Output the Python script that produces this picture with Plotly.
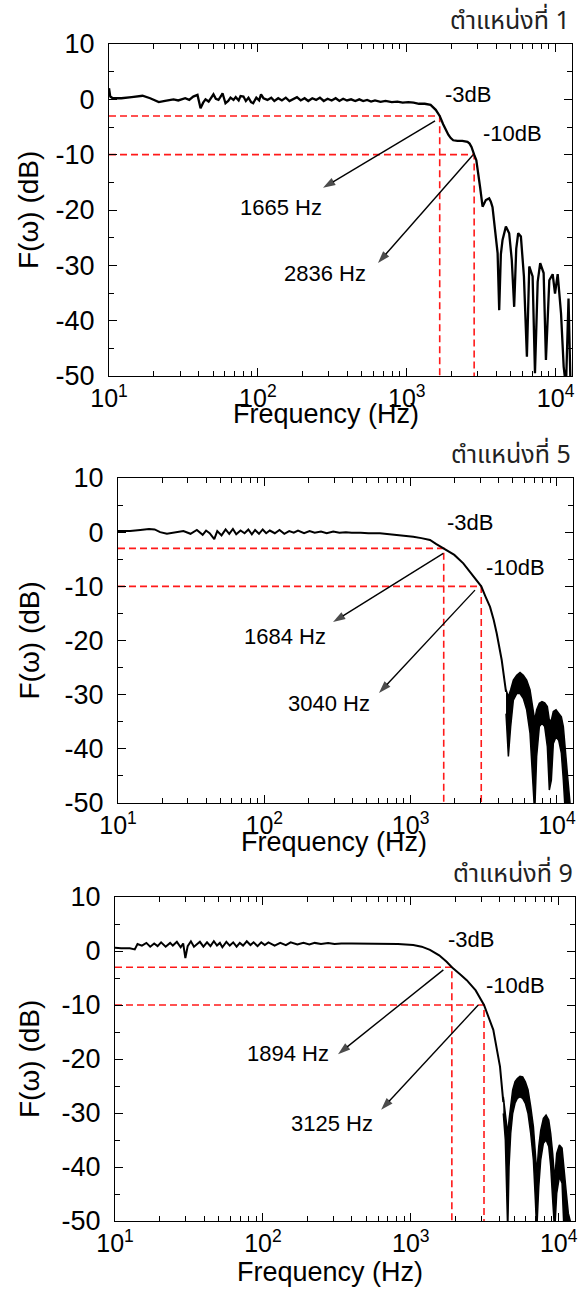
import math
import plotly.graph_objects as go

# ---- data (frequency in Hz, response in dB) ----
PANEL_TITLES = ["ตำแหน่งที่ 1", "ตำแหน่งที่ 5", "ตำแหน่งที่ 9"]
CUT_3DB = [1665, 1684, 1894]
CUT_10DB = [2836, 3040, 3125]

P1_FREQ = [10.0, 10.2, 10.6, 12.1, 14.2, 16.8, 18.9, 21.6, 23.8, 27.1,
           29.2, 32.5, 34.6, 36.8, 39.3, 41.2, 42.9, 44.5, 46.7, 50.3,
           52.2, 54.4, 56.6, 57.9, 60.6, 63.2, 65.5, 68.6, 71.0, 74.3,
           76.5, 80.0, 83.0, 86.5, 90.0, 93.0, 97.6, 102, 105, 109,
           116, 123, 129, 137, 145, 154, 163, 173, 183, 194,
           206, 218, 232, 246, 261, 277, 294, 313, 333, 353,
           374, 397, 423, 451, 480, 510, 542, 576, 612, 667,
           720, 793, 866, 939, 1025, 1113, 1208, 1321, 1446, 1566,
           1665, 1756, 1827, 1902, 1975, 2052, 2191, 2363, 2559, 2643,
           2722, 2806, 2836, 2933, 2988, 3114, 3231, 3316, 3399, 3577,
           3671, 3768, 3927, 4077, 4178, 4287, 4400, 4633, 4875, 5075,
           5267, 5438, 5605, 5845, 6124, 6413, 6651, 7005, 7265, 7577,
           7878, 8308, 8608, 9071, 9555, 9907, 10325, 10872, 11325, 11736,
           12208, 12600]
P1_DB = [2.0, 0.5, 0.2, 0.2, 0.4, 0.65, 0.2, -0.5, -0.3, 0.0,
         -0.2, 0.2, -0.1, 0.5, 0.8, -1.6, -0.6, 0.0, -0.4, 0.9,
         0.1, -0.1, 0.6, 1.1, -0.7, -0.3, 0.3, -0.1, 0.4, -0.2,
         0.6, 0.5, -0.3, 0.3, -0.5, -0.7, 0.3, -0.2, 0.9, 0.2,
         -0.1, 0.3, -0.3, 0.2, -0.2, 0.3, -0.3, 0.1, 0.4, -0.2,
         0.2, -0.3, 0.2, -0.1, 0.3, -0.3, 0.1, -0.2, 0.2, -0.3,
         0.1, -0.2, 0.0, -0.3, 0.0, -0.3, -0.1, -0.4, -0.2, -0.45,
         -0.3, -0.5, -0.4, -0.6, -0.5, -0.6, -0.8, -0.8, -1.0, -1.9,
         -3.0, -4.5, -5.5, -6.4, -7.0, -7.4, -7.5, -7.5, -7.7, -8.0,
         -8.6, -9.4, -10.0, -11.0, -12.3, -16.0, -19.4, -18.6, -18.2, -17.9,
         -18.5, -19.5, -23.5, -27.8, -38.1, -28.0, -25.4, -23.0, -24.2, -29.0,
         -37.5, -27.0, -24.2, -24.8, -32.0, -46.5, -30.2, -32.0, -49.5, -33.0,
         -29.6, -31.4, -47.1, -32.7, -31.6, -35.1, -31.6, -38.7, -48.3, -52.0,
         -36.0, -52.0]

P2_FREQ = [10, 12.1, 14.2, 16.3, 17.8, 19.4, 21.6, 24.8, 28.0, 31.3,
           34.6, 37.9, 40.0, 42.3, 45.5, 47.7, 51.0, 54.4, 57.6, 61.0,
           64.3, 68.8, 73.3, 77.8, 82.2, 86.5, 92.0, 97.5, 103, 109,
           118, 127, 137, 148, 159, 170, 187, 204, 221, 244,
           267, 296, 326, 361, 396, 456, 515, 617, 757, 878,
           1043, 1184, 1357, 1500, 1684, 1990, 2292, 2619, 3040, 3239,
           3491, 3699, 3879, 4194, 4418, 4489]
P2_DB = [0.2, 0.2, 0.4, 0.6, 0.5, 0.0, -0.3, -0.1, 0.2, -0.3,
         0.4, -0.5, 0.3, -0.2, -1.3, 0.2, -0.6, 0.5, -0.3, 0.6,
         -0.4, 0.3, -0.2, 0.5, -0.4, 0.4, -0.3, 0.5, -0.2, 0.3,
         -0.2, 0.4, -0.3, 0.2, -0.1, 0.3, -0.2, 0.2, -0.1, 0.1,
         -0.2, 0.1, -0.1, 0.0, -0.1, -0.1, -0.2, -0.2, -0.4, -0.6,
         -0.83, -1.1, -1.45, -2.2, -3.0, -4.2, -5.75, -7.8, -10.0, -11.8,
         -13.8, -16.2, -18.7, -23.6, -28.5, -29.5]
# high-frequency part drawn as a dense band (upper / lower envelope)
P2_BAND_FREQ = [4489, 4659, 4829, 5038, 5312, 5597, 5895, 6212, 6549, 6832,
                7048, 7270, 7583, 7907, 8251, 8602, 8874, 9163, 9453, 9860,
                10280, 10724, 11065, 11421, 11786, 12290]
P2_BAND_HI = [-29.1, -30.4, -29.1, -27.3, -26.4, -25.9, -26.4, -27.3, -29.1, -32.2,
              -34.7, -32.8, -31.6, -31.3, -31.5, -32.2, -34.7, -34.7, -33.1, -32.8,
              -33.5, -34.1, -35.9, -39.6, -44.5, -50.0]
P2_BAND_LO = [-33.5, -41.4, -35.9, -31.0, -29.8, -29.8, -30.7, -32.8, -37.1, -44.5,
              -52.0, -41.4, -35.9, -35.3, -35.9, -39.6, -47.6, -45.8, -39.0, -37.8,
              -38.4, -40.8, -45.8, -52.0, -52.0, -52.0]

P3_FREQ = [10, 11, 12.6, 13.6, 14.2, 15.2, 16.3, 17.3, 18.4, 19.4,
           20.5, 22.0, 23.6, 24.6, 26.2, 27.8, 28.9, 29.9, 31.0, 32.6,
           34.2, 35.9, 37.5, 39.6, 41.9, 44.2, 46.6, 48.9, 51.2, 53.2,
           56.6, 59.7, 63.0, 66.4, 69.8, 73.4, 77.8, 82.4, 86.5, 92.0,
           97.5, 103, 109, 120, 131, 143, 154, 171, 188, 206,
           224, 247, 276, 305, 339, 397, 455, 513, 619, 818,
           1038, 1184, 1347, 1555, 1746, 1894, 2152, 2388, 2745, 3125,
           3611, 4008, 4220]
P3_DB = [0.6, 0.5, 0.5, 0.3, 1.3, 1.0, 1.5, 0.8, 1.4, 0.9,
         1.6, 0.8, 1.5, 1.0, 1.7, 0.7, 1.4, -1.3, 0.9, 1.8,
         0.8, 1.2, 1.7, 0.8, 1.6, 0.9, 1.8, 1.0, 1.5, 0.7,
         1.7, 1.0, 1.6, 0.8, 1.5, 1.0, 1.8, 1.1, 1.6, 0.9,
         1.6, 1.1, 1.6, 1.0, 1.5, 1.1, 1.6, 1.2, 1.5, 1.2,
         1.5, 1.3, 1.5, 1.3, 1.4, 1.4, 1.4, 1.4, 1.4, 1.3,
         1.1, 0.8, 0.2, -0.8, -2.0, -3.0, -4.3, -5.4, -7.3, -10.0,
         -14.6, -21.4, -28.0]
P3_BAND_FREQ = [4220, 4355, 4448, 4520, 4614, 4735, 4883, 5065, 5249, 5473,
                5705, 5948, 6201, 6465, 6740, 6951, 7098, 7326, 7555, 7876,
                8210, 8560, 8826, 9103, 9388, 9690, 10102, 10532, 10862, 11208,
                11616, 12050]
P3_BAND_HI = [-27.0, -30.1, -32.5, -33.8, -31.3, -28.2, -25.7, -24.2, -23.6, -23.2,
              -23.3, -24.2, -25.7, -28.8, -32.5, -37.5, -41.2, -36.2, -33.2, -31.0,
              -30.4, -31.3, -33.8, -37.5, -42.4, -37.5, -35.9, -36.5, -39.9, -44.3,
              -48.6, -50.3]
P3_BAND_LO = [-30.1, -35.0, -41.8, -52.0, -39.9, -33.8, -30.1, -28.2, -27.3, -27.0,
              -27.3, -28.2, -30.1, -33.8, -38.7, -46.1, -52.0, -43.7, -38.7, -35.6,
              -35.0, -36.2, -39.9, -46.1, -52.0, -44.9, -41.8, -43.0, -52.0, -52.0,
              -52.0, -52.0]

# annotation anchor points (frequency, dB)
ARROW_3DB = [((1549, -3.9), (274, -16.0)), ((1673, -3.9), (295, -16.6)), ((1660, -3.5), (322, -19.1))]
ARROW_10DB = [((2773, -10.1), (641, -29.6)), ((2754, -10.7), (608, -29.7)), ((2858, -10.0), (630, -29.4))]
LABEL_3DB_POS = [(143, -19.5), (138, -19.2), (148, -18.9)]
LABEL_10DB_POS = [(282, -31.4), (277, -31.7), (293, -31.9)]
TAG_3DB_POS = [(2576, 0.8), (2547, 1.7), (2553, 2.2)]
TAG_10DB_POS = [(5093, -6.1), (5248, -6.6), (5140, -6.3)]

X_MAJOR = [10, 100, 1000, 10000]
X_MAJOR_TEXT = ["10<sup>1</sup>", "10<sup>2</sup>", "10<sup>3</sup>", "10<sup>4</sup>"]
X_MINOR = [20, 30, 40, 50, 60, 70, 80, 90,
           200, 300, 400, 500, 600, 700, 800, 900,
           2000, 3000, 4000, 5000, 6000, 7000, 8000, 9000]
Y_MAJOR = [-50, -40, -30, -20, -10, 0, 10]

# ---- page geometry (pixels) ----
W, H = 584, 1293
BOXES = [(109, 572, 44, 376), (118, 573, 478, 803), (115, 575, 897, 1221)]  # left, right, top, bottom
XTITLE_POS = [(326, 414), (334, 842), (330, 1272)]
YTITLE_X = 29

FONT = "Liberation Sans, Arial, sans-serif"
THAI_FONT = "Noto Sans Thai, Loma, Tahoma, Noto Sans, sans-serif"

curves = [(P1_FREQ, P1_DB, None),
          (P2_FREQ, P2_DB, (P2_BAND_FREQ, P2_BAND_HI, P2_BAND_LO)),
          (P3_FREQ, P3_DB, (P3_BAND_FREQ, P3_BAND_HI, P3_BAND_LO))]

fig = go.Figure()
annotations = []
lg = math.log10

for i, (freq, db, band) in enumerate(curves):
    n = "" if i == 0 else str(i + 1)
    xa, ya = "x" + n, "y" + n
    left, right, top, bottom = BOXES[i]

    # red dashed guide lines for the -3 dB and -10 dB points
    for fc, lvl in ((CUT_3DB[i], -3), (CUT_10DB[i], -10)):
        fig.add_trace(go.Scatter(x=[10, fc, fc], y=[lvl, lvl, -50], mode="lines",
                                 line=dict(color="#ff1a1a", width=1.6, dash="7px,4px"),
                                 xaxis=xa, yaxis=ya, showlegend=False, hoverinfo="skip"))

    fig.add_trace(go.Scatter(x=freq, y=db, mode="lines",
                             line=dict(color="black", width=2 if i else 2.3),
                             xaxis=xa, yaxis=ya, showlegend=False))
    if band:
        bf, bh, bl = band
        fig.add_trace(go.Scatter(x=bf + bf[::-1], y=bh + bl[::-1], mode="lines",
                                 fill="toself", fillcolor="black",
                                 line=dict(color="black", width=1.5),
                                 xaxis=xa, yaxis=ya, showlegend=False))

    # arrows: tail at the cut-off point, head next to the frequency label
    for (tail, head) in (ARROW_3DB[i], ARROW_10DB[i]):
        fig.add_trace(go.Scatter(x=[tail[0], head[0]], y=[tail[1], head[1]], mode="lines+markers",
                                 line=dict(color="black", width=1.4),
                                 marker=dict(symbol="arrow", angleref="previous", size=[0, 13],
                                             color="black", line=dict(width=0)),
                                 xaxis=xa, yaxis=ya, showlegend=False, hoverinfo="skip"))

    axis_common = dict(showline=True, linecolor="black", linewidth=1.3, mirror="allticks",
                       ticks="inside", tickwidth=1.2, tickcolor="black", showgrid=False,
                       zeroline=False, automargin=False)
    fig.layout["xaxis" + n] = dict(
        type="log", range=[1, 4.11], domain=[left / W, right / W], anchor=ya,
        tickmode="array", tickvals=X_MAJOR, ticktext=X_MAJOR_TEXT, ticklen=8,
        ticklabelstandoff=0, tickfont=dict(family=FONT, size=25, color="black"),
        minor=dict(tickvals=X_MINOR, ticks="inside", ticklen=5, tickwidth=1, tickcolor="black"),
        **axis_common)
    fig.layout["yaxis" + n] = dict(
        range=[-50, 10], domain=[1 - bottom / H, 1 - top / H], anchor=xa,
        tickmode="array", tickvals=Y_MAJOR, ticktext=[str(v) for v in Y_MAJOR],
        ticklen=8, ticklabelstandoff=8, tickfont=dict(family=FONT, size=27, color="black"),
        minor=dict(dtick=5, ticks="inside", ticklen=5, tickwidth=1, tickcolor="black"),
        **axis_common)

    txt_font = dict(family=FONT, size=22, color="black")
    for (f, d), t in ((LABEL_3DB_POS[i], f"{CUT_3DB[i]} Hz"), (LABEL_10DB_POS[i], f"{CUT_10DB[i]} Hz"),
                      (TAG_3DB_POS[i], "-3dB"), (TAG_10DB_POS[i], "-10dB")):
        annotations.append(dict(x=lg(f), y=d, xref=xa, yref=ya, text=t, showarrow=False,
                                font=txt_font))

    # panel title, axis titles
    annotations.append(dict(x=right / W, y=1 - (top - 2) / H, xref="paper", yref="paper",
                            xanchor="right", yanchor="bottom", text=PANEL_TITLES[i],
                            showarrow=False, font=dict(family=THAI_FONT, size=25, color="#222")))
    annotations.append(dict(x=XTITLE_POS[i][0] / W, y=1 - XTITLE_POS[i][1] / H, xref="paper",
                            yref="paper", xanchor="center", yanchor="middle",
                            text="Frequency (Hz)", showarrow=False,
                            font=dict(family=FONT, size=27, color="black")))
    annotations.append(dict(x=YTITLE_X / W, y=1 - (top + bottom) / 2 / H, xref="paper",
                            yref="paper", xanchor="center", yanchor="middle",
                            text="F(ω) (dB)", textangle=-90, showarrow=False,
                            font=dict(family=FONT, size=28, color="black")))

fig.update_layout(width=W, height=H, margin=dict(l=0, r=0, t=0, b=0, autoexpand=False),
                  paper_bgcolor="white", plot_bgcolor="white",
                  annotations=annotations, showlegend=False)

# the page body has a default 8px margin; drop it so the figure fills the window
fig.write_html("out.html", config={"displayModeBar": False},
               post_script="document.body.style.margin='0';document.body.style.overflow='hidden';")
